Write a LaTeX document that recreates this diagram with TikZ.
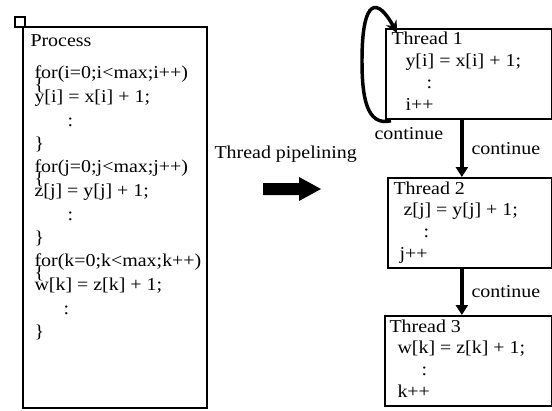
\documentclass[tikz,border=0pt]{standalone}
\usepackage{fontspec}
\setmainfont[FakeStretch=1.1]{Liberation Serif}
\usetikzlibrary{arrows.meta}

\tikzset{every picture/.style={line width=0.75pt}}
\tikzset{threadbox/.style={draw,line width=1.3pt,anchor=north west,inner sep=0pt,minimum width=124.5pt,minimum height=67.5pt}}
\tikzset{flow/.style={line width=3pt,-{Triangle[length=7.5pt,width=9pt]}}}

\begin{document}
\begin{tikzpicture}[x=0.75pt,y=0.75pt,yscale=-1,xscale=1,font=\fontsize{13.6}{16}\selectfont]
\useasboundingbox (0,0) rectangle (552,410);

%Shape: Rectangle
\draw [line width=1.1pt]  (23,27) -- (207,27) -- (207,408) -- (23,408) -- cycle ;
\draw [line width=2pt]  (23,27) -- (23,408) ;
%Shape: Square
\draw [line width=1.2pt]  (15,17) -- (25,17) -- (25,27) -- (15,27) -- cycle ;

% Text Node
\draw (29,46) node [anchor=base west][inner sep=0.75pt]  [align=left] (proc) {Process};
% Text Node
\draw (33,78) node [anchor=base west][inner sep=0.75pt]  [align=left] (fori) {for(i=0;i<max;i++)};
\draw (33,90) node [anchor=base west][inner sep=0.75pt]  [align=left] (obi) {\{};
\draw (33,102) node [anchor=base west][inner sep=0.75pt]  [align=left] (sti) {y[i] = x[i] + 1;};
\draw (66,126) node [anchor=base west][inner sep=0.75pt]  [align=left] (doti) {:};
\draw (33,149) node [anchor=base west][inner sep=0.75pt]  [align=left] (cbi) {\}};
% Text Node
\draw (33,172) node [anchor=base west][inner sep=0.75pt]  [align=left] (forj) {for(j=0;j<max;j++)};
\draw (33,184) node [anchor=base west][inner sep=0.75pt]  [align=left] (obj) {\{};
\draw (33,196) node [anchor=base west][inner sep=0.75pt]  [align=left] (stj) {z[j] = y[j] + 1;};
\draw (66,220) node [anchor=base west][inner sep=0.75pt]  [align=left] (dotj) {:};
\draw (33,243) node [anchor=base west][inner sep=0.75pt]  [align=left] (cbj) {\}};
% Text Node
\draw (33,266) node [anchor=base west][inner sep=0.75pt]  [align=left] (fork) {for(k=0;k<max;k++)};
\draw (33,278) node [anchor=base west][inner sep=0.75pt]  [align=left] (obk) {\{};
\draw (33,290) node [anchor=base west][inner sep=0.75pt]  [align=left] (stk) {w[k] = z[k] + 1;};
\draw (62,314) node [anchor=base west][inner sep=0.75pt]  [align=left] (dotk) {:};
\draw (33,337) node [anchor=base west][inner sep=0.75pt]  [align=left] (cbk) {\}};

% Text Node
\draw (213,158) node [anchor=base west][inner sep=0.75pt]  [align=left] (pipe) {Thread pipelining};
%Shape: Right Arrow
\fill  (263,183) -- (299,183) -- (299,177) -- (321,189) -- (299,201) -- (299,195) -- (263,195) -- cycle ;

%Shape: Rectangle
\draw (385,28) node [threadbox] (t1) {};
%Shape: Rectangle
\draw (387,177) node [threadbox,minimum width=123pt] (t2) {};
%Shape: Rectangle
\draw (384,315) node [threadbox,minimum width=125.25pt] (t3) {};

% Text Node
\draw (390,45) node [anchor=base west][inner sep=0.75pt]  [align=left] (h1) {Thread 1};
\draw (404,66) node [anchor=base west][inner sep=0.75pt]  [align=left] (s1) {y[i] = x[i] + 1;};
\draw (425,88) node [anchor=base west][inner sep=0.75pt]  [align=left] (d1) {:};
\draw (404,110) node [anchor=base west][inner sep=0.75pt]  [align=left] (c1) {i++};
% Text Node
\draw (392,194) node [anchor=base west][inner sep=0.75pt]  [align=left] (h2) {Thread 2};
\draw (402,215) node [anchor=base west][inner sep=0.75pt]  [align=left] (s2) {z[j] = y[j] + 1;};
\draw (422,237) node [anchor=base west][inner sep=0.75pt]  [align=left] (d2) {:};
\draw (398,259) node [anchor=base west][inner sep=0.75pt]  [align=left] (c2) {j++};
% Text Node
\draw (388,332) node [anchor=base west][inner sep=0.75pt]  [align=left] (h3) {Thread 3};
\draw (396,353) node [anchor=base west][inner sep=0.75pt]  [align=left] (s3) {w[k] = z[k] + 1;};
\draw (420,375) node [anchor=base west][inner sep=0.75pt]  [align=left] (d3) {:};
\draw (396,397) node [anchor=base west][inner sep=0.75pt]  [align=left] (c3) {k++};

%Straight Lines
\draw [flow]  ([xshift=-5.25pt]t1.south) -- ([xshift=-5.25pt]t1.south |- t2.north) ;
%Straight Lines
\draw [flow]  ([xshift=-6pt]t2.south) -- ([xshift=-6pt]t2.south |- t3.north) ;
%Curve Lines
\draw [line width=2.6pt,-{Stealth[length=9pt,width=9pt]}]  ([xshift=4.5pt,yshift=0.75pt]t1.south west) .. controls +(-25,6) and +(0,35) .. ([shift={(-23,-59)}]t1.south west) .. controls +(0,-65) and +(-19,-35) .. ([xshift=9pt,yshift=3.75pt]t1.north west) ;

% Text Node
\draw (373,139) node [anchor=base west][inner sep=0.75pt]  [align=left] (lp) {continue};
% Text Node
\draw (470,154) node [anchor=base west][inner sep=0.75pt]  [align=left] (l12) {continue};
% Text Node
\draw (470,297) node [anchor=base west][inner sep=0.75pt]  [align=left] (l23) {continue};
\end{tikzpicture}
\end{document}
